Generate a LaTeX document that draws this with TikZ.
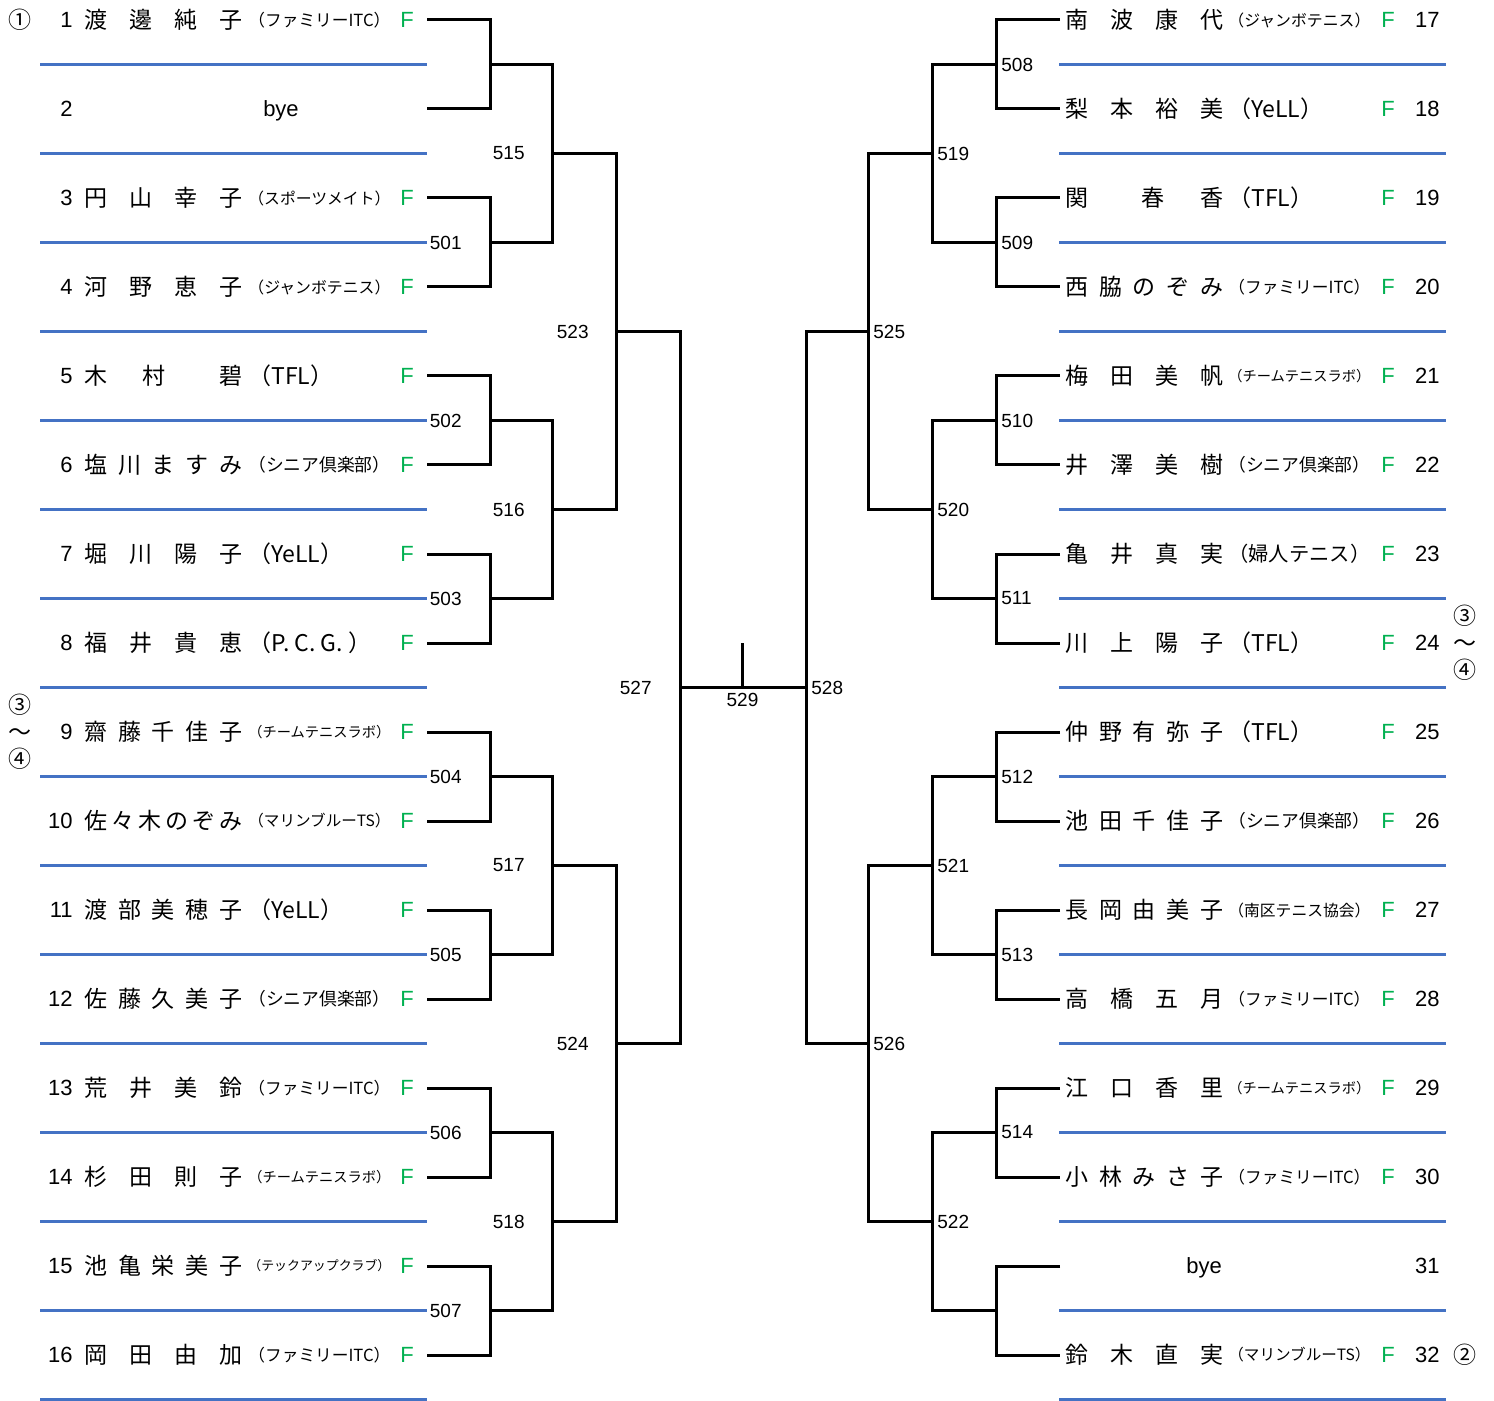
\documentclass[tikz,border=0pt]{standalone}
\usepackage{fontspec}
\setmainfont{Noto Sans CJK JP}
\newfontfamily\latinsans{Liberation Sans}
\usepackage{graphicx}
\usetikzlibrary{positioning}
\definecolor{rowblue}{HTML}{4472C4}
\definecolor{fgreen}{HTML}{00B050}

\begin{document}
\begin{tikzpicture}[
                x=0.5pt, y=-0.5pt,
                bracket/.style={line width=1.5pt},
                rowline/.style={line width=1.5pt, draw=rowblue},
                pnum/.style={inner sep=0pt, font=\latinsans\fontsize{11}{13}\selectfont},
                pname/.style={inner sep=0pt, anchor=west, font=\fontsize{11.5}{13}\selectfont},
                club/.style={inner sep=0pt, anchor=west, font=\fontsize{11.5}{13}\selectfont},
                flag/.style={inner sep=0pt, text=fgreen, font=\latinsans\fontsize{11}{13}\selectfont},
                mlabel/.style={inner sep=0pt, font=\latinsans\fontsize{9.5}{11}\selectfont},
                seed/.style={inner sep=0pt, align=center, font=\fontsize{11.5}{13.5}\selectfont}
            ]
            \useasboundingbox (0,0) rectangle (1494,1401);

            % shrink long club names to the cell width
            \newcommand{\clubfit}[1]{\sbox0{#1}\ifdim\wd0>71pt \resizebox{71pt}{!}{#1}\else\box0\fi}

            \newcommand{\playerL}[3]{
                \node[pnum, anchor=east] (n#1) at (73,{20+89*(#1-1)}) {#1};
                \node[pname] (s#1) at (84,{20+89*(#1-1)}) {\makebox[79pt]{#2}};
                \node[club] (c#1) at (248,{20+89*(#1-1)}) {\clubfit{#3}};
                \node[flag] (f#1) at (407,{20+89*(#1-1)}) {F};
                \coordinate (p#1) at (427,{20+89*(#1-1)});
                \draw[rowline] (40,{64.5+89*(#1-1)}) -- (427,{64.5+89*(#1-1)});
            }

            \newcommand{\playerR}[3]{
                \coordinate (p#1) at (1060,{20+89*(#1-17)});
                \node[pname] (s#1) at (1065,{20+89*(#1-17)}) {\makebox[79pt]{#2}};
                \node[club] (c#1) at (1228,{20+89*(#1-17)}) {\clubfit{#3}};
                \node[flag] (f#1) at (1388,{20+89*(#1-17)}) {F};
                \node[pnum, anchor=east] (n#1) at (1440,{20+89*(#1-17)}) {#1};
                \draw[rowline] (1059,{64.5+89*(#1-17)}) -- (1446,{64.5+89*(#1-17)});
            }

            % left half
            \playerL{1}{渡\hfill 邊\hfill 純\hfill 子}{（ファミリーITC）}
            \node[pnum, anchor=east] (n2) at (73,109) {2};
            \node[pnum] (s2) at (281,110.5) {bye};
            \coordinate (p2) at (427,109);
            \draw[rowline] (40,153.5) -- (427,153.5);
            \playerL{3}{円\hfill 山\hfill 幸\hfill 子}{（スポーツメイト）}
            \playerL{4}{河\hfill 野\hfill 恵\hfill 子}{（ジャンボテニス）}
            \playerL{5}{木\hfill\hfill 村\hfill\hfill\hfill 碧}{（TFL）}
            \playerL{6}{塩\hfill 川\hfill ま\hfill す\hfill み}{（シニア倶楽部）}
            \playerL{7}{堀\hfill 川\hfill 陽\hfill 子}{（YeLL）}
            \playerL{8}{福\hfill 井\hfill 貴\hfill 恵}{（P. C. G. ）}
            \playerL{9}{齋\hfill 藤\hfill 千\hfill 佳\hfill 子}{（チームテニスラボ）}
            \playerL{10}{佐\hfill 々\hfill 木\hfill の\hfill ぞ\hfill み}{（マリンブルーTS）}
            \playerL{11}{渡\hfill 部\hfill 美\hfill 穂\hfill 子}{（YeLL）}
            \playerL{12}{佐\hfill 藤\hfill 久\hfill 美\hfill 子}{（シニア倶楽部）}
            \playerL{13}{荒\hfill 井\hfill 美\hfill 鈴}{（ファミリーITC）}
            \playerL{14}{杉\hfill 田\hfill 則\hfill 子}{（チームテニスラボ）}
            \playerL{15}{池\hfill 亀\hfill 栄\hfill 美\hfill 子}{（テックアップクラブ）}
            \playerL{16}{岡\hfill 田\hfill 由\hfill 加}{（ファミリーITC）}

            % right half
            \playerR{17}{南\hfill 波\hfill 康\hfill 代}{（ジャンボテニス）}
            \playerR{18}{梨\hfill 本\hfill 裕\hfill 美}{（YeLL）}
            \playerR{19}{関\hfill\hfill\hfill 春\hfill\hfill 香}{（TFL）}
            \playerR{20}{西\hfill 脇\hfill の\hfill ぞ\hfill み}{（ファミリーITC）}
            \playerR{21}{梅\hfill 田\hfill 美\hfill 帆}{（チームテニスラボ）}
            \playerR{22}{井\hfill 澤\hfill 美\hfill 樹}{（シニア倶楽部）}
            \playerR{23}{亀\hfill 井\hfill 真\hfill 実}{（婦人テニス）}
            \playerR{24}{川\hfill 上\hfill 陽\hfill 子}{（TFL）}
            \playerR{25}{仲\hfill 野\hfill 有\hfill 弥\hfill 子}{（TFL）}
            \playerR{26}{池\hfill 田\hfill 千\hfill 佳\hfill 子}{（シニア倶楽部）}
            \playerR{27}{長\hfill 岡\hfill 由\hfill 美\hfill 子}{（南区テニス協会）}
            \playerR{28}{高\hfill 橋\hfill 五\hfill 月}{（ファミリーITC）}
            \playerR{29}{江\hfill 口\hfill 香\hfill 里}{（チームテニスラボ）}
            \playerR{30}{小\hfill 林\hfill み\hfill さ\hfill 子}{（ファミリーITC）}
            \coordinate (p31) at (1060,1266);
            \node[pnum] (s31) at (1204,1267.5) {bye};
            \node[pnum, anchor=east] (n31) at (1440,1266) {31};
            \draw[rowline] (1059,1310.5) -- (1446,1310.5);
            \playerR{32}{鈴\hfill 木\hfill 直\hfill 実}{（マリンブルーTS）}

            % seeds
            \node[seed] (seed1) at (20,20) {①};
            \node[seed] (seed34l) at (20,732) {③\\〜\\④};
            \node[seed] (seed34r) at (1465,643) {③\\〜\\④};
            \node[seed] (seed2) at (1465,1355) {②};

            % match points
            \coordinate (m500) at (490,64.5);
            \coordinate (m501) at (490,242.5);
            \coordinate (m502) at (490,420.5);
            \coordinate (m503) at (490,598.5);
            \coordinate (m504) at (490,776.5);
            \coordinate (m505) at (490,954.5);
            \coordinate (m506) at (490,1132.5);
            \coordinate (m507) at (490,1310.5);
            \coordinate (m515) at (552,153.5);
            \coordinate (m516) at (552,509.5);
            \coordinate (m517) at (552,865.5);
            \coordinate (m518) at (552,1221.5);
            \coordinate (m523) at (616,331.5);
            \coordinate (m524) at (616,1043.5);
            \coordinate (m527) at (680,687.5);
            \coordinate (m529) at (742.5,687.5);
            \coordinate (top529) at (742.5,643);
            \coordinate (m528) at (806,687.5);
            \coordinate (m525) at (868,331.5);
            \coordinate (m526) at (868,1043.5);
            \coordinate (m519) at (932,153.5);
            \coordinate (m520) at (932,509.5);
            \coordinate (m521) at (932,865.5);
            \coordinate (m522) at (932,1221.5);
            \coordinate (m508) at (996,64.5);
            \coordinate (m509) at (996,242.5);
            \coordinate (m510) at (996,420.5);
            \coordinate (m511) at (996,598.5);
            \coordinate (m512) at (996,776.5);
            \coordinate (m513) at (996,954.5);
            \coordinate (m514) at (996,1132.5);
            \coordinate (m530) at (996,1310.5);

            % first round
            \draw[bracket] (p1) -| (m500) |- (p2);
            \draw[bracket] (p3) -| (m501) |- (p4);
            \draw[bracket] (p5) -| (m502) |- (p6);
            \draw[bracket] (p7) -| (m503) |- (p8);
            \draw[bracket] (p9) -| (m504) |- (p10);
            \draw[bracket] (p11) -| (m505) |- (p12);
            \draw[bracket] (p13) -| (m506) |- (p14);
            \draw[bracket] (p15) -| (m507) |- (p16);
            \draw[bracket] (p17) -| (m508) |- (p18);
            \draw[bracket] (p19) -| (m509) |- (p20);
            \draw[bracket] (p21) -| (m510) |- (p22);
            \draw[bracket] (p23) -| (m511) |- (p24);
            \draw[bracket] (p25) -| (m512) |- (p26);
            \draw[bracket] (p27) -| (m513) |- (p28);
            \draw[bracket] (p29) -| (m514) |- (p30);
            \draw[bracket] (p31) -| (m530) |- (p32);

            % later rounds
            \draw[bracket] (m500) -| (m515) |- (m501);
            \draw[bracket] (m502) -| (m516) |- (m503);
            \draw[bracket] (m504) -| (m517) |- (m505);
            \draw[bracket] (m506) -| (m518) |- (m507);
            \draw[bracket] (m515) -| (m523) |- (m516);
            \draw[bracket] (m517) -| (m524) |- (m518);
            \draw[bracket] (m523) -| (m527) |- (m524);
            \draw[bracket] (m508) -| (m519) |- (m509);
            \draw[bracket] (m510) -| (m520) |- (m511);
            \draw[bracket] (m512) -| (m521) |- (m513);
            \draw[bracket] (m514) -| (m522) |- (m530);
            \draw[bracket] (m519) -| (m525) |- (m520);
            \draw[bracket] (m521) -| (m526) |- (m522);
            \draw[bracket] (m525) -| (m528) |- (m526);
            \draw[bracket] (m527) -- (m528);
            \draw[bracket] (m529) -- (top529);

            % match numbers
            \node[mlabel, left=14pt of m501] (l501) {501};
            \node[mlabel, left=14pt of m502] (l502) {502};
            \node[mlabel, left=14pt of m503] (l503) {503};
            \node[mlabel, left=14pt of m504] (l504) {504};
            \node[mlabel, left=14pt of m505] (l505) {505};
            \node[mlabel, left=14pt of m506] (l506) {506};
            \node[mlabel, left=14pt of m507] (l507) {507};
            \node[mlabel, left=13.5pt of m515] (l515) {515};
            \node[mlabel, left=13.5pt of m516] (l516) {516};
            \node[mlabel, left=13.5pt of m517] (l517) {517};
            \node[mlabel, left=13.5pt of m518] (l518) {518};
            \node[mlabel, left=13.5pt of m523] (l523) {523};
            \node[mlabel, left=13.5pt of m524] (l524) {524};
            \node[mlabel, left=14pt of m527] (l527) {527};
            \node[mlabel, below=2.5pt of m529] (l529) {529};
            \node[mlabel, right=2.5pt of m528] (l528) {528};
            \node[mlabel, right=2.5pt of m525] (l525) {525};
            \node[mlabel, right=2.5pt of m526] (l526) {526};
            \node[mlabel, right=2.5pt of m519] (l519) {519};
            \node[mlabel, right=2.5pt of m520] (l520) {520};
            \node[mlabel, right=2.5pt of m521] (l521) {521};
            \node[mlabel, right=2.5pt of m522] (l522) {522};
            \node[mlabel, right=2.5pt of m508] (l508) {508};
            \node[mlabel, right=2.5pt of m509] (l509) {509};
            \node[mlabel, right=2.5pt of m510] (l510) {510};
            \node[mlabel, right=2.5pt of m511] (l511) {511};
            \node[mlabel, right=2.5pt of m512] (l512) {512};
            \node[mlabel, right=2.5pt of m513] (l513) {513};
            \node[mlabel, right=2.5pt of m514] (l514) {514};

        \end{tikzpicture}
\end{document}
